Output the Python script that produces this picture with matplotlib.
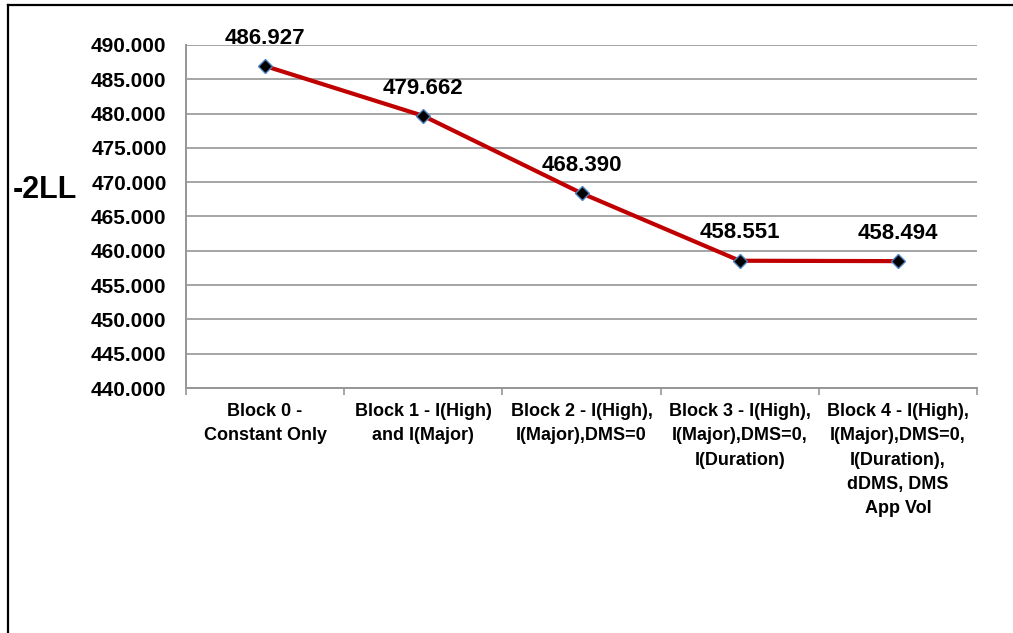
import matplotlib
matplotlib.use("Agg")
import matplotlib.pyplot as plt
from matplotlib import font_manager
from matplotlib.lines import Line2D

# Data
blocks = [
    "Block 0 -\nConstant Only",
    "Block 1 - I(High)\nand I(Major)",
    "Block 2 - I(High),\nI(Major),DMS=0",
    "Block 3 - I(High),\nI(Major),DMS=0,\nI(Duration)",
    "Block 4 - I(High),\nI(Major),DMS=0,\nI(Duration),\ndDMS, DMS\nApp Vol",
]
neg2ll = [486.927, 479.662, 468.390, 458.551, 458.494]
y_ticks = [440, 445, 450, 455, 460, 465, 470, 475, 480, 485, 490]

installed = {f.name for f in font_manager.fontManager.ttflist}
main_font = "Liberation Sans" if "Liberation Sans" in installed else "DejaVu Sans"
plt.rcParams['font.family'] = [main_font, 'DejaVu Sans']

fig = plt.figure(figsize=(10.13, 6.33), dpi=100)
ax = fig.add_axes([0.1836, 0.387, 0.7809, 0.542])

x = list(range(len(blocks)))
ax.plot(x, neg2ll, color='#c00000', linewidth=3.0, marker='D', markersize=7.5,
        markerfacecolor='black', markeredgecolor='#4f81bd', markeredgewidth=1.0,
        zorder=3)

for xi, v in zip(x, neg2ll):
    ax.annotate(f"{v:.3f}", (xi, v), xytext=(0, 12.5), textcoords='offset points',
                ha='center', va='bottom', fontsize=16, fontweight='bold',
                annotation_clip=False)

ax.set_xlim(-0.5, len(blocks) - 0.5)
ax.set_ylim(440, 490)
ax.set_yticks(y_ticks)
ax.set_yticklabels([f"{t:.3f}" for t in y_ticks], fontsize=15, fontweight='bold')
ax.tick_params(axis='y', length=0, pad=14)

ax.set_xticks(x)
ax.set_xticklabels(blocks, fontsize=13, fontweight='bold',
                   linespacing=1.55, va='top')
ax.tick_params(axis='x', which='major', length=0, pad=11)
ax.set_xticks([i - 0.5 for i in range(len(blocks) + 1)], minor=True)
ax.tick_params(axis='x', which='minor', length=5, width=1.2, color='#969696',
               direction='out')

ax.grid(axis='y', color='#969696', linewidth=1.2)
ax.set_axisbelow(True)
for side in ['top', 'right']:
    ax.spines[side].set_visible(False)
for side in ['left', 'bottom']:
    ax.spines[side].set_color('#969696')
    ax.spines[side].set_linewidth(1.4)

fig.text(0.013, 0.70, "-2LL", fontsize=22, fontweight='bold', ha='left', va='center')

# outer frame (top and left edges only visible)
fig.add_artist(Line2D([0.008, 1.0], [0.992, 0.992], color='black', linewidth=1.6,
                      transform=fig.transFigure))
fig.add_artist(Line2D([0.008, 0.008], [0.0, 0.992], color='black', linewidth=1.6,
                      transform=fig.transFigure))

fig.savefig("out.png", dpi=100)
